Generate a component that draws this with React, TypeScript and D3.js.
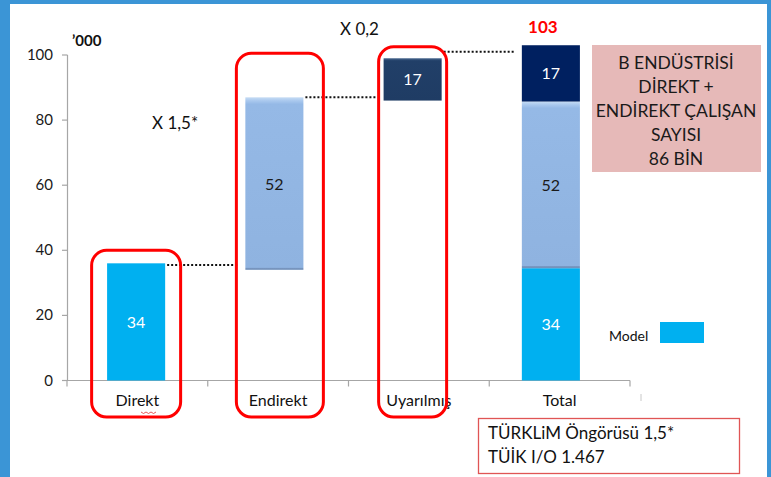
import React, { useRef, useEffect } from 'react';
import * as d3 from 'd3';

// categories and the stacked pieces (in thousands)
const categories = ['Direkt', 'Endirekt', 'Uyarılmış', 'Total'];
const segCategory = ['Direkt', 'Endirekt', 'Uyarılmış', 'Total', 'Total', 'Total'];
const segLow = [0, 34, 86, 0, 34.5, 85.7];
const segHigh = [36, 87, 99, 34.5, 85.7, 103];
const segLabel = ['34', '52', '17', '34', '52', '17'];
const segKind = ['direkt', 'endirekt', 'uyarilmis', 'direkt', 'endirekt', 'total'];
const yTicks = [0, 20, 40, 60, 80, 100];

// connector levels (dotted lines between steps)
const connectorFrom = ['Direkt', 'Endirekt', 'Uyarılmış'];
const connectorValue = [35.5, 87, 101];

// circled categories and how high their frames reach
const framedCategories = ['Direkt', 'Endirekt', 'Uyarılmış'];
const frameTop = [40, 100.5, 102.5];

const multipliers = ['X 1,5*', 'X 0,2'];
const totalLabel = '103';
const noteLines = ['B ENDÜSTRİSİ', 'DİREKT +', 'ENDİREKT ÇALIŞAN', 'SAYISI', '86 BİN'];
const sourceLines = ['TÜRKLiM Öngörüsü 1,5*', 'TÜİK I/O 1.467'];
const legendLabel = 'Model';

const colors: Record<string, string> = {
  direkt: '#00b0f0',
  endirekt: 'url(#gEndirekt)',
  uyarilmis: 'url(#gUyar)',
  total: '#002060',
};
const labelColor: Record<string, string> = {
  direkt: '#ffffff',
  endirekt: '#1a1a1a',
  uyarilmis: '#ffffff',
  total: '#ffffff',
};

const FONT = 'Lato, "Open Sans", sans-serif';

export default function App() {
  const svgRef = useRef<SVGSVGElement>(null);

  useEffect(() => {
    if (!svgRef.current) return;
    const svg = d3.select(svgRef.current);
    svg.selectAll('*').remove();

    const W = 771;
    const H = 477;

    // frame
    svg.append('rect').attr('width', W).attr('height', H).attr('fill', '#3b95d6');
    svg.append('rect').attr('x', 10).attr('y', 4).attr('width', 757).attr('height', H)
      .attr('fill', '#ffffff');

    const defs = svg.append('defs');
    const g1 = defs.append('linearGradient').attr('id', 'gEndirekt')
      .attr('x1', 0).attr('y1', 0).attr('x2', 0).attr('y2', 1);
    g1.append('stop').attr('offset', '0%').attr('stop-color', '#c6dcf4');
    g1.append('stop').attr('offset', '2%').attr('stop-color', '#a9c8ee');
    g1.append('stop').attr('offset', '4%').attr('stop-color', '#95b9e6');
    g1.append('stop').attr('offset', '98.6%').attr('stop-color', '#8fb3e0');
    g1.append('stop').attr('offset', '99%').attr('stop-color', '#7896c0');
    g1.append('stop').attr('offset', '100%').attr('stop-color', '#7090ba');
    const g2 = defs.append('linearGradient').attr('id', 'gUyar')
      .attr('x1', 0).attr('y1', 0).attr('x2', 0).attr('y2', 1);
    g2.append('stop').attr('offset', '0%').attr('stop-color', '#4a6990');
    g2.append('stop').attr('offset', '6%').attr('stop-color', '#213f68');
    g2.append('stop').attr('offset', '100%').attr('stop-color', '#1f3c64');

    const y = d3.scaleLinear().domain([0, 100]).range([380.5, 55]);
    const xAxis = d3.scaleBand<string>().domain(categories).range([67, 630]);
    const xBar = d3.scaleBand<string>().domain(categories).range([67, 620]).paddingInner(0.58).paddingOuter(0.29);

    const axisColor = '#a6a6a6';

    // y axis
    svg.append('line').attr('x1', 67.5).attr('x2', 67.5).attr('y1', y(100)).attr('y2', y(0))
      .attr('stroke', axisColor).attr('stroke-width', 1.2);
    yTicks.forEach(t => {
      svg.append('line').attr('x1', 62).attr('x2', 67.5).attr('y1', y(t)).attr('y2', y(t))
        .attr('stroke', axisColor).attr('stroke-width', 1.2);
      svg.append('text').attr('x', 53).attr('y', y(t) + 5).attr('text-anchor', 'end')
        .attr('font-family', FONT).attr('font-size', 15).attr('fill', '#1a1a1a').text(t);
    });
    svg.append('text').attr('x', 72).attr('y', 46).attr('font-family', FONT)
      .attr('font-weight', 'bold').attr('font-size', 15).attr('fill', '#111').text('’000');

    // x axis
    svg.append('line').attr('x1', 67).attr('x2', 630).attr('y1', y(0)).attr('y2', y(0))
      .attr('stroke', axisColor).attr('stroke-width', 1.2);
    const bounds = categories.map(c => xAxis(c)!).concat([630]);
    bounds.forEach(b => {
      svg.append('line').attr('x1', b).attr('x2', b).attr('y1', y(0)).attr('y2', y(0) + 6)
        .attr('stroke', axisColor).attr('stroke-width', 1.2);
    });
    svg.append('line').attr('x1', 641).attr('x2', 641).attr('y1', 394).attr('y2', 401)
      .attr('stroke', '#c8c8c8').attr('stroke-width', 1);
    categories.forEach(c => {
      svg.append('text').attr('x', xAxis(c)! + xAxis.bandwidth() / 2).attr('y', 406)
        .attr('text-anchor', 'middle').attr('font-family', FONT).attr('font-size', 16)
        .attr('fill', '#111').text(c);
    });
    // spell-check squiggle under "Direkt"
    const sq = d3.range(0, 7).map(i => [141 + i * 2.5, 412 + (i % 2 ? 1.5 : 0)] as [number, number]);
    svg.append('path').attr('d', d3.line()(sq)).attr('fill', 'none')
      .attr('stroke', '#e03030').attr('stroke-width', 0.8);

    // bars
    segCategory.forEach((c, i) => {
      const x0 = xBar(c)!;
      const top = y(segHigh[i]);
      const bot = y(segLow[i]);
      svg.append('rect').attr('x', x0).attr('y', top).attr('width', xBar.bandwidth())
        .attr('height', bot - top).attr('fill', colors[segKind[i]]);
      svg.append('text').attr('x', x0 + xBar.bandwidth() / 2).attr('y', (top + bot) / 2 + 6)
        .attr('text-anchor', 'middle').attr('font-family', FONT).attr('font-size', 16)
        .attr('fill', labelColor[segKind[i]]).text(segLabel[i]);
    });

    // dotted connectors
    connectorFrom.forEach((c, i) => {
      const x0 = xBar(c)! + xBar.bandwidth();
      const next = categories[categories.indexOf(c) + 1];
      const x1 = xBar(next)!;
      svg.append('line').attr('x1', x0 + 2).attr('x2', x1 - 7)
        .attr('y1', y(connectorValue[i])).attr('y2', y(connectorValue[i]))
        .attr('stroke', '#111').attr('stroke-width', 2).attr('stroke-dasharray', '2,2');
    });

    // red frames around the steps
    const frameHalf = [44.5, 43.5, 34];
    const frameShift = [0, 5.5, 0];
    framedCategories.forEach((c, i) => {
      const cx = xBar(c)! + xBar.bandwidth() / 2 + frameShift[i];
      svg.append('rect').attr('x', cx - frameHalf[i]).attr('y', y(frameTop[i]))
        .attr('width', frameHalf[i] * 2).attr('height', 417 - y(frameTop[i]))
        .attr('rx', 15).attr('fill', 'none').attr('stroke', '#ff0000').attr('stroke-width', 3);
    });

    // multipliers and total
    svg.append('text').attr('x', 152).attr('y', 129).attr('font-family', FONT)
      .attr('font-size', 17).attr('fill', '#111').text(multipliers[0]);
    svg.append('text').attr('x', 340).attr('y', 35).attr('font-family', FONT)
      .attr('font-size', 17).attr('fill', '#111').text(multipliers[1]);
    svg.append('text').attr('x', xBar('Total')! + xBar.bandwidth() / 2 - 8).attr('y', 33)
      .attr('text-anchor', 'middle').attr('font-family', FONT).attr('font-weight', 'bold')
      .attr('font-size', 17).attr('fill', '#ff0000').text(totalLabel);

    // pink note
    svg.append('rect').attr('x', 592).attr('y', 45).attr('width', 169).attr('height', 127)
      .attr('fill', '#e6b9b8');
    noteLines.forEach((t, i) => {
      svg.append('text').attr('x', 676).attr('y', 69 + i * 24).attr('text-anchor', 'middle')
        .attr('font-family', FONT).attr('font-size', 17.5).attr('fill', '#1a1a1a').text(t);
    });

    // legend
    svg.append('text').attr('x', 609).attr('y', 341).attr('font-family', FONT)
      .attr('font-size', 14).attr('fill', '#111').text(legendLabel);
    svg.append('rect').attr('x', 660).attr('y', 322).attr('width', 44).attr('height', 21)
      .attr('fill', colors.direkt);

    // source box
    svg.append('rect').attr('x', 478.5).attr('y', 418.5).attr('width', 261).attr('height', 55)
      .attr('fill', '#fff').attr('stroke', '#e05555').attr('stroke-width', 1.3);
    sourceLines.forEach((t, i) => {
      svg.append('text').attr('x', 488).attr('y', 439 + i * 24).attr('font-family', FONT)
        .attr('font-size', 17).attr('fill', '#111').text(t);
    });
  }, []);

  return (
    <svg ref={svgRef} width={771} height={477}
      style={{ position: 'absolute', left: 0, top: 0, display: 'block' }} />
  );
}
